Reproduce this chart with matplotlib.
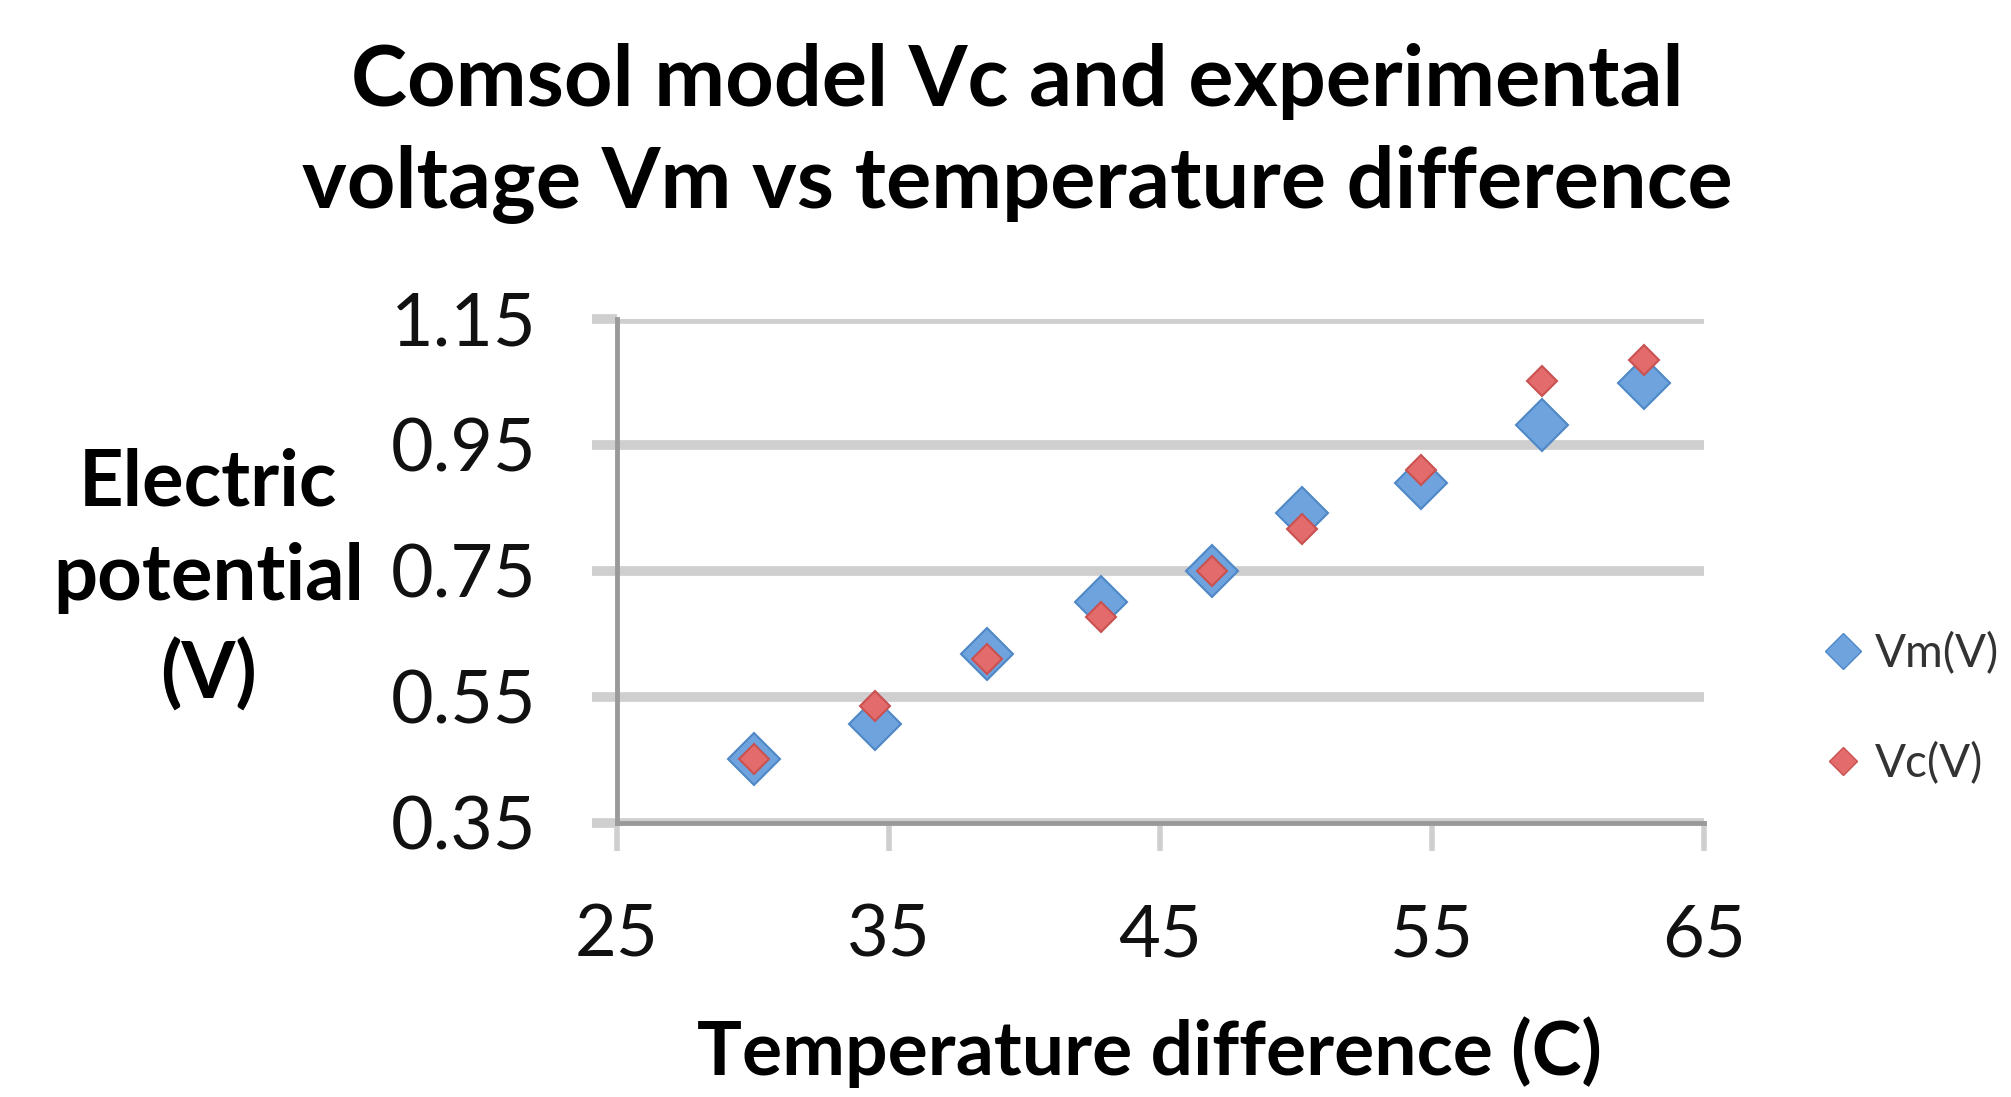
import numpy as np
import matplotlib
matplotlib.use("Agg")
import matplotlib.pyplot as plt
from matplotlib.lines import Line2D

plt.rcParams['font.family'] = ['Lato', 'DejaVu Sans']

# data
temp_diff = [30.05, 34.5, 38.6, 42.8, 46.9, 50.2, 54.6, 59.05, 62.8]
vm = [0.451, 0.506, 0.618, 0.701, 0.750, 0.842, 0.890, 0.982, 1.048]
vc = [0.451, 0.535, 0.610, 0.677, 0.750, 0.816, 0.910, 1.051, 1.085]
x_ticks = [25, 35, 45, 55, 65]
y_ticks = [0.35, 0.55, 0.75, 0.95, 1.15]
y_tick_labels = ["0.35", "0.55", "0.75", "0.95", "1.15"]

blue = '#6fa3de'
blue_edge = '#4f88c6'
red = '#e46b6b'
red_edge = '#c85252'
grid_col = '#cfcfcf'
axis_col = '#9a9a9a'

fig = plt.figure(figsize=(20.11, 10.97), dpi=100)
ax = fig.add_axes([0.3068, 0.25, 0.5405, 0.4594])

ax.plot(temp_diff, vm, linestyle='none', marker='D', markersize=26,
        markerfacecolor=blue, markeredgecolor=blue_edge, markeredgewidth=1.5,
        label='Vm(V)', zorder=3)
ax.plot(temp_diff, vc, linestyle='none', marker='D', markersize=15.5,
        markerfacecolor=red, markeredgecolor=red_edge, markeredgewidth=1.5,
        label='Vc(V)', zorder=4)

ax.set_xlim(25, 65)
ax.set_ylim(0.35, 1.15)
ax.set_xticks(x_ticks)
ax.set_yticks(y_ticks)
ax.set_yticklabels(y_tick_labels)

# horizontal gridlines
ax.yaxis.grid(True, color=grid_col, linewidth=7)
ax.set_axisbelow(True)

for s in ['top', 'right']:
    ax.spines[s].set_visible(False)
ax.spines['left'].set_color(axis_col)
ax.spines['left'].set_linewidth(3.5)
ax.spines['bottom'].set_color(axis_col)
ax.spines['bottom'].set_linewidth(3.5)
ax.spines['bottom'].set_zorder(2.5)

ax.tick_params(axis='y', length=18, width=7, color=grid_col, pad=40,
               labelsize=53, labelcolor='#111111')
ax.tick_params(axis='x', length=20, width=4, color=grid_col, pad=38,
               labelsize=52, labelcolor='#111111')

ax.set_ylabel("Electric\npotential\n(V)", rotation=0, fontsize=56,
              fontweight='bold', ha='center', va='center', linespacing=1.4)
ax.yaxis.set_label_coords(-0.376, 0.482)
ax.set_xlabel("Temperature difference (C)", fontsize=54, fontweight='bold',
              va='center')
ax.xaxis.set_label_coords(0.49, -0.455)

fig.text(0.5057, 0.879,
         "Comsol model Vc and experimental\nvoltage Vm vs temperature difference",
         ha='center', va='center', fontsize=61, fontweight='bold', linespacing=1.38)

handles = [
    Line2D([], [], linestyle='none', marker='D', markersize=18,
           markerfacecolor=blue, markeredgecolor=blue_edge, label='Vm(V)'),
    Line2D([], [], linestyle='none', marker='D', markersize=14,
           markerfacecolor=red, markeredgecolor=red_edge, label='Vc(V)'),
]
fig.legend(handles=handles, loc='center left', bbox_to_anchor=(0.889, 0.354),
           frameon=False, fontsize=33, labelspacing=1.45, handlelength=0.6,
           handletextpad=0.4, labelcolor='#333333')

fig.savefig("out.png", dpi=100)
